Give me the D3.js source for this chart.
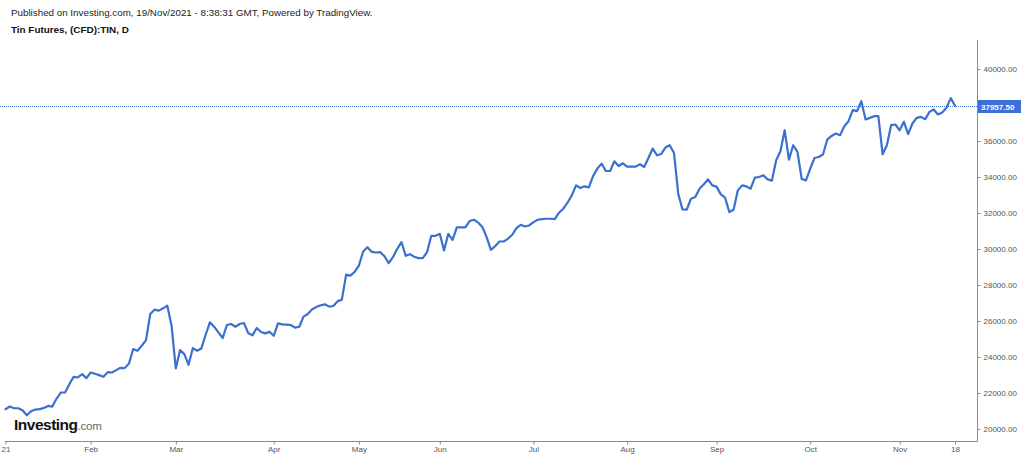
<!DOCTYPE html>
<html>
<head>
<meta charset="utf-8">
<script src="https://cdn.jsdelivr.net/npm/d3@7/dist/d3.min.js"></script>
<style>
  html, body { margin: 0; padding: 0; background: #fff; }
  svg { display: block; font-family: "Liberation Sans", Arial, sans-serif; }
</style>
</head>
<body>
<svg id="chart" width="1024" height="458"></svg>
<script>
// Daily closes (trading days), Jan 4 2021 – Nov 2021
const prices = [
  21097,21244,21151,21151,21040,20761,20984,21077,21097,21170,
  21281,21244,21689,22024,22024,22488,22897,22860,23046,22823,
  23138,23064,22990,22897,23157,23138,23269,23398,23380,23640,
  24440,24345,24624,24940,26389,26629,26574,26703,26852,25738,
  23359,24382,24160,23566,24494,24345,24475,25220,25922,25682,
  25365,25052,25775,25831,25682,25831,25886,25329,25200,25611,
  25388,25310,25404,25181,25868,25812,25794,25775,25627,25682,
  26239,26388,26646,26778,26870,26926,26796,26833,27093,27186,
  28579,28523,28728,29081,29861,30102,29843,29805,29824,29601,
  29211,29545,30010,30378,29620,29712,29566,29491,29491,29824,
  30734,30734,30845,29916,30845,30511,31204,31204,31204,31553,
  31628,31476,31220,30660,29955,30158,30418,30418,30566,30789,
  31160,31346,31253,31309,31494,31625,31662,31681,31681,31662,
  32016,32239,32573,32980,33538,33389,33482,33426,34056,34468,
  34746,34335,34335,34875,34613,34763,34579,34579,34579,34707,
  34557,35058,35582,35209,35282,35638,35766,35337,33075,32200,
  32184,32797,32886,33353,33593,33872,33538,33465,33036,32851,
  32052,32184,33259,33538,33482,33351,33966,34000,34095,33872,
  33799,34930,35431,36601,34969,35766,35394,33888,33816,34468,
  35058,35114,35248,36083,36284,36418,36323,36824,37103,37716,
  37660,38217,37197,37287,37381,37381,35264,35766,36880,36918,
  36601,37066,36379,36974,37287,37343,37214,37622,37755,37476,
  37587,37844,38384,37957.5
];
const lastPrice = 37957.5;

// x-axis ticks: bar index of the first trading day of each month
const xTickIndex = [0, 20, 40, 63, 83, 102, 124, 146, 167, 189, 210, 223];
const xTickLabels = ["21", "Feb", "Mar", "Apr", "May", "Jun", "Jul", "Aug", "Sep", "Oct", "Nov", "18"];

// y-axis ticks (38000 is hidden behind the last-price label)
const yTicks = [20000, 22000, 24000, 26000, 28000, 30000, 32000, 34000, 36000, 40000];

const headerText = "Published on Investing.com, 19/Nov/2021 - 8:38:31 GMT, Powered by TradingView.";
const titleText = "Tin Futures, (CFD):TIN, D";

const svg = d3.select("#chart");
const plotRight = 977, plotTop = 40, plotBottom = 441;

const x = d3.scaleLinear().domain([0, prices.length - 1]).range([5.5, 955]);
const y = d3.scaleLinear().domain([19330, 41615]).range([plotBottom, plotTop]);

// header
svg.append("text").attr("x", 11).attr("y", 16)
  .attr("font-size", 9.8).attr("fill", "#222").text(headerText);
svg.append("text").attr("x", 11).attr("y", 32.5)
  .attr("font-size", 9.9).attr("font-weight", "bold").attr("fill", "#111").text(titleText);

// last-price dotted line
svg.append("line")
  .attr("x1", 0).attr("x2", plotRight)
  .attr("y1", Math.round(y(lastPrice)) + 0.5).attr("y2", Math.round(y(lastPrice)) + 0.5)
  .attr("stroke", "#3c78d8").attr("stroke-width", 1).attr("stroke-dasharray", "1,1");

// price line
const line = d3.line().x((d, i) => x(i)).y(d => y(d));
svg.append("path").datum(prices)
  .attr("d", line)
  .attr("fill", "none")
  .attr("stroke", "#3a70d0")
  .attr("stroke-width", 2.2)
  .attr("stroke-linejoin", "round")
  .attr("stroke-linecap", "round");

// right y axis
const yAxis = d3.axisRight(y).tickValues(yTicks).tickSize(3).tickFormat(d3.format(".2f"));
const gy = svg.append("g").attr("transform", `translate(${plotRight + 0.5},0)`).call(yAxis);
gy.select(".domain").attr("stroke", "#8a8a8a").attr("d", `M0,${plotTop}V${plotBottom + 0.5}`);
gy.selectAll(".tick line").attr("stroke", "#8a8a8a");
gy.selectAll(".tick text").attr("font-size", 8).attr("fill", "#555").attr("x", 6)
  .attr("font-family", "'Liberation Sans', Arial, sans-serif");

// bottom x axis
const xAxis = d3.axisBottom(x).tickValues(xTickIndex).tickSize(3)
  .tickFormat((d, i) => xTickLabels[i]);
const gx = svg.append("g").attr("transform", `translate(0,${plotBottom + 0.5})`).call(xAxis);
gx.select(".domain").attr("stroke", "#8a8a8a").attr("d", `M5,0H${plotRight + 0.5}`);
gx.selectAll(".tick line").attr("stroke", "#8a8a8a");
gx.selectAll(".tick text").attr("font-size", 8).attr("fill", "#555").attr("y", 5)
  .attr("font-family", "'Liberation Sans', Arial, sans-serif");

// last-price label
const ly = Math.round(y(lastPrice)) + 0.5;
svg.append("rect").attr("x", plotRight + 1).attr("y", ly - 6.5).attr("width", 43).attr("height", 13)
  .attr("fill", "#3c6fd9");
svg.append("text").attr("x", plotRight + 4).attr("y", ly + 3)
  .attr("font-size", 8).attr("font-weight", "bold").attr("fill", "#fff")
  .text(d3.format(".2f")(lastPrice));

// Investing.com logo
const logo = svg.append("text").attr("x", 14).attr("y", 430);
logo.append("tspan").attr("font-size", 15.5).attr("font-weight", "bold").attr("fill", "#111")
  .attr("letter-spacing", -0.5).text("Investing");
logo.append("tspan").attr("font-size", 11.5).attr("fill", "#666").attr("letter-spacing", -0.2).text(".com");
</script>
</body>
</html>
